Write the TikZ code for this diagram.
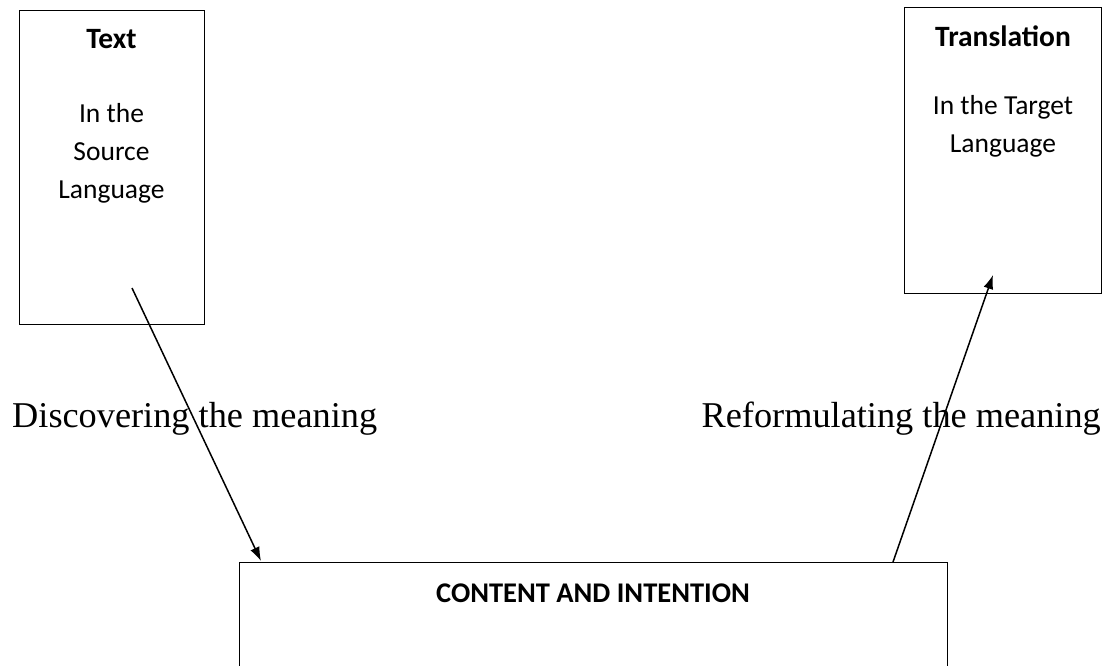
\documentclass[tikz,border=0pt]{standalone}
\usepackage{fontspec}
\setmainfont{Carlito}
\newfontfamily\serifl{Liberation Serif}
\usetikzlibrary{arrows.meta}
\begin{document}
\begin{tikzpicture}[x=1pt,y=1pt,
  boxstyle/.style={draw=black, line width=1.2pt, inner sep=0pt, anchor=north west},
  boxtext/.style={font=\fontsize{27.5}{38}\selectfont, align=center, anchor=base, inner sep=0pt},
  headtext/.style={font=\fontsize{29.5}{36}\selectfont\bfseries, anchor=base, inner sep=0pt},
  lbl/.style={font=\serifl\fontsize{36.3}{42}\selectfont, anchor=base west, inner sep=0pt},
  conn/.style={line width=1.5pt, -{Latex[length=14pt,width=10pt]}}]
\useasboundingbox (0,0) rectangle (1105,-666);
% boxes
\node[boxstyle, minimum width=185pt, minimum height=314pt] (src) at (19,-10) {};
\node[boxstyle, minimum width=197pt, minimum height=286pt] (tgt) at (904,-7) {};
\node[boxstyle, minimum width=708pt, minimum height=130pt] (mid) at (239,-562) {};
% texts in left box
\node[headtext] (srchead) at (111.5,-49) {Text};
\node[boxtext] (srcbody) at (111.5,-198) {In the\\Source\\Language};
% texts in right box
\node[headtext] (tgthead) at (1003,-47) {Translation};
\node[boxtext] (tgtbody) at (1003,-152) {In the Target\\Language};
% bottom box
\node[headtext, font=\fontsize{28.5}{34}\selectfont\bfseries] (midhead) at (593,-602) {CONTENT AND INTENTION};
% labels
\node[lbl] (ldisc) at (12,-427) {Discovering the meaning};
\node[lbl, anchor=base east] (lref) at (1101,-427) {Reformulating the meaning};
% connectors
\coordinate (a1) at (132,-288);
\coordinate (a2) at (261,-561);
\coordinate (b1) at (893,-562);
\coordinate (b2) at (993,-275);
\draw[conn] (a1) -- (a2);
\draw[conn] (b1) -- (b2);
\end{tikzpicture}
\end{document}
